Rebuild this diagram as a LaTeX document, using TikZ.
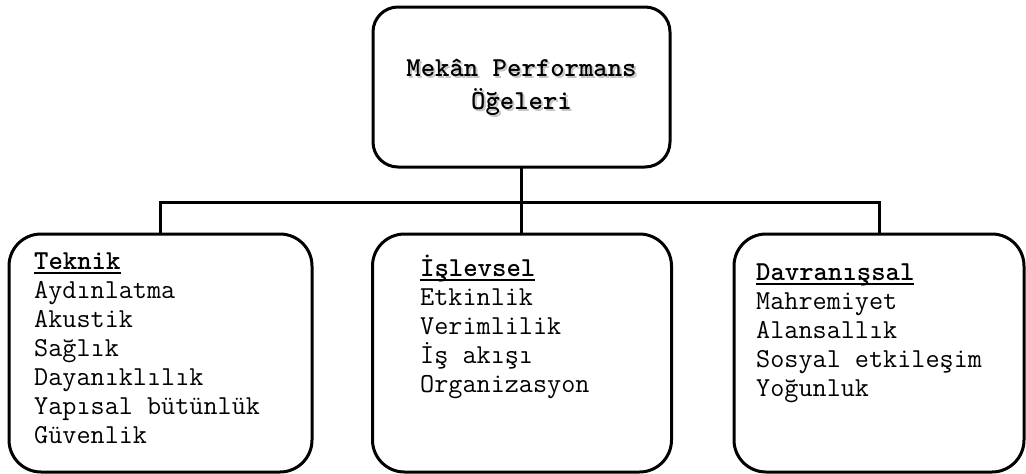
\documentclass[tikz,border=0pt]{standalone}
\usepackage{fontspec}
\usetikzlibrary{positioning, calc}

% kutu ve yazi stilleri
\tikzset{
    kutu/.style={draw, line width=3pt, rounded corners=32pt, inner sep=0pt, outer sep=0pt,
        minimum height=238pt},
    baslikyazi/.style={align=center, inner sep=0pt, font=\ttfamily\bfseries\fontsize{27.4}{33}\selectfont},
    baslikkutu/.style={kutu, baslikyazi, rounded corners=25pt, minimum width=297pt, minimum height=160pt},
    liste/.style={anchor=base west, align=left, inner sep=0pt, font=\ttfamily\fontsize{27.4}{29}\selectfont},
    cizgi/.style={line width=3pt}
}
% alti cizili grup adi
\newcommand{\grupadi}[1]{\setbox0\hbox{\bfseries #1}\rlap{\rule[-4.5pt]{\wd0}{2pt}}\box0}

\begin{document}
\begin{tikzpicture}[x=1pt, y=-1pt]

    \useasboundingbox (0,0) rectangle (1026,474);

    % ust kutu (golge once, sonra kutunun kendisi)
    \node[baslikyazi, text=gray!45] (golge) at (523.5,89) {Mekân Performans\\Öğeleri};
    \node[baslikkutu] (baslik) at (521.5,87) {Mekân Performans\\Öğeleri};

    % alt kutular
    \node[kutu, minimum width=303pt] (teknik)   at (160.5,353) {};
    \node[kutu, minimum width=299pt] (islevsel) at (522,353)   {};
    \node[kutu, minimum width=290pt] (davranis) at (879,353)   {};

    % kutu icindeki listeler (base = son satirin taban cizgisi)
    \node[liste] (teknikliste) at ($(teknik.north west)+(25,209)$)
        {\grupadi{Teknik}\\Aydınlatma\\Akustik\\Sağlık\\Dayanıklılık\\Yapısal bütünlük\\Güvenlik};
    \node[liste] (islevselliste) at ($(islevsel.north west)+(47.5,158)$)
        {\grupadi{İşlevsel}\\Etkinlik\\Verimlilik\\İş akışı\\Organizasyon};
    \node[liste] (davranisliste) at ($(davranis.north west)+(22,162)$)
        {\grupadi{Davranışsal}\\Mahremiyet\\Alansallık\\Sosyal etkileşim\\Yoğunluk};

    % baglanti cizgileri
    \coordinate (dugum) at ($(baslik.south)+(0,35)$);
    \draw[cizgi] (baslik.south) -- (dugum);
    \draw[cizgi] (teknik.north) |- (dugum) -| (davranis.north);
    \draw[cizgi] (dugum) -- (dugum |- islevsel.north);

\end{tikzpicture}
\end{document}
